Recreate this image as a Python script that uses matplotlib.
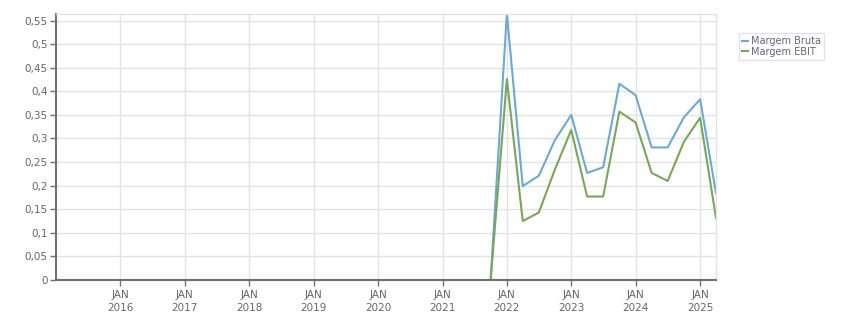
import matplotlib
matplotlib.use("Agg")
import matplotlib.pyplot as plt
import pandas as pd

dates = ["2021-10-01", "2022-01-01", "2022-04-01", "2022-07-01", "2022-10-01",
         "2023-01-01", "2023-04-01", "2023-07-01", "2023-10-01", "2024-01-01",
         "2024-04-01", "2024-07-01", "2024-10-01", "2025-01-01", "2025-04-01"]
margem_bruta = [0.0, 0.565, 0.199, 0.221, 0.297, 0.350, 0.227, 0.239, 0.416, 0.392,
                0.281, 0.281, 0.345, 0.383, 0.184]
margem_ebit = [0.0, 0.426, 0.125, 0.143, 0.235, 0.318, 0.177, 0.177, 0.357, 0.334,
               0.227, 0.210, 0.293, 0.344, 0.131]
tick_years = list(range(2016, 2026))
y_ticks = [0, 0.05, 0.1, 0.15, 0.2, 0.25, 0.3, 0.35, 0.4, 0.45, 0.5, 0.55]

x = pd.to_datetime(dates)

fig = plt.figure(figsize=(8.51, 3.13), dpi=100)
ax = fig.add_axes([56/851, 33/313, 660/851, 266.5/313])

ax.plot(x, margem_bruta, color="#6aaad4", lw=1.5, label="Margem Bruta")
ax.plot(x, margem_ebit, color="#78a857", lw=1.5, label="Margem EBIT")

ax.set_xlim(pd.Timestamp("2015-01-01"), pd.Timestamp("2025-04-01"))
ax.set_ylim(0, 0.565)

ticks = [pd.Timestamp(f"{y}-01-01") for y in tick_years]
ax.set_xticks(ticks)
ax.set_xticklabels([f"JAN\n{y}" for y in tick_years], linespacing=1.45)
ax.set_yticks(y_ticks)
ax.set_yticklabels([("%g" % v).replace(".", ",") for v in y_ticks])

ax.grid(True, color="#e3e3e3", lw=1)
ax.set_axisbelow(True)
for s in ["top", "right"]:
    ax.spines[s].set_color("#e3e3e3")
    ax.spines[s].set_linewidth(1)
for s in ["left", "bottom"]:
    ax.spines[s].set_color("#707070")
    ax.spines[s].set_linewidth(1.5)
ax.tick_params(axis="both", colors="#707070", labelcolor="#666666", labelsize=7.5,
               length=4, width=1)
ax.tick_params(axis="x", pad=3)
ax.tick_params(axis="y", pad=2)

leg = ax.legend(loc="upper left", bbox_to_anchor=(739/851, 1 - 33/313),
                bbox_transform=fig.transFigure, frameon=True, fancybox=False,
                fontsize=7, handlelength=0.6, handletextpad=0.3,
                borderpad=0.3, labelspacing=0.1, borderaxespad=0)
leg.get_frame().set_edgecolor("#dddddd")
leg.get_frame().set_linewidth(1)
for t in leg.get_texts():
    t.set_color("#666677")

fig.savefig("out.png", dpi=100)
